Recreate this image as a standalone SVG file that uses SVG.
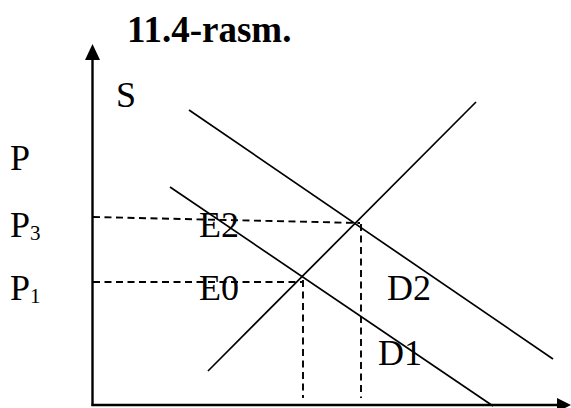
<svg xmlns="http://www.w3.org/2000/svg" width="571" height="408" viewBox="0 0 571 408">
<style>
.t{font-family:"Liberation Serif","Times New Roman",serif;fill:#000}
.lab{font-size:36px}
.sub{font-size:21px}
.ln{stroke:#000;stroke-width:1.7;fill:none}
.ax{stroke:#000;stroke-width:2.4;fill:none}
.da{stroke:#000;stroke-width:1.9;fill:none;stroke-dasharray:7 4.5}
</style>
<rect width="571" height="408" fill="#fff"/>
<g id="title"><text class="t" x="127" y="42" font-size="37" font-weight="bold">11.4-rasm.</text></g>
<g id="axes">
<line class="ax" x1="92.5" y1="58" x2="92.5" y2="406"/>
<polygon points="92.5,44 85,60 100,60" fill="#000"/>
<line class="ax" x1="91.5" y1="405" x2="558" y2="405"/>
<polygon points="571,405 557,398 557,412" fill="#000"/>
</g>
<g id="connectors">
<line class="da" x1="93" y1="217" x2="360" y2="223"/>
<line class="da" x1="93" y1="282" x2="302" y2="282"/>
<line class="da" x1="303" y1="280" x2="303" y2="398"/>
<line class="da" x1="361" y1="224" x2="361" y2="398"/>
</g>
<g id="S"><line class="ln" x1="208" y1="371" x2="476" y2="102"/></g>
<g id="D2"><line class="ln" x1="189" y1="110" x2="553" y2="359"/></g>
<g id="D1"><line class="ln" x1="170" y1="187" x2="493" y2="406"/></g>
<g id="labels">
<text class="t lab" x="116" y="107">S</text>
<text class="t lab" x="10" y="170">P</text>
<text class="t lab" x="10" y="237">P<tspan class="sub" dy="3">3</tspan></text>
<text class="t lab" x="10" y="300">P<tspan class="sub" dy="3">1</tspan></text>
<text class="t lab" x="199" y="237">E2</text>
<text class="t lab" x="199" y="300">E0</text>
<text class="t lab" x="387" y="300">D2</text>
<text class="t lab" x="378" y="365">D1</text>
</g>
</svg>
